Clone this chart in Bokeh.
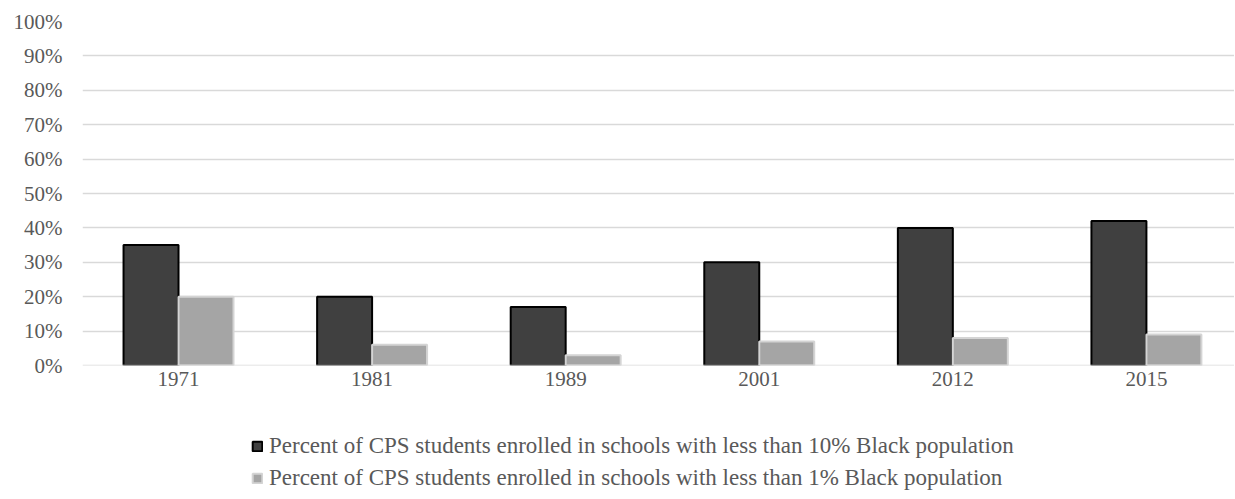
from bokeh.plotting import figure
from bokeh.layouts import column
from bokeh.models import (ColumnDataSource, Range1d, FixedTicker, NumeralTickFormatter,
                          Legend, LegendItem, Span)
from bokeh.transform import dodge
from bokeh.embed import file_html
from bokeh.resources import INLINE

years = ["1971", "1981", "1989", "2001", "2012", "2015"]
less_than_10 = [0.35, 0.20, 0.17, 0.30, 0.40, 0.42]
less_than_1 = [0.20, 0.06, 0.03, 0.07, 0.08, 0.09]
series_names = [
    "Percent of CPS students enrolled in schools with less than 10% Black population",
    "Percent of CPS students enrolled in schools with less than 1% Black population",
]

FONT = "Liberation Serif"
TXT = "#595959"
DARK, DARK_LINE = "#404040", "black"
LIGHT, LIGHT_LINE = "#a5a5a5", "#d4d4d4"

W = 1234
src = ColumnDataSource(dict(x=list(range(len(years))), a=less_than_10, b=less_than_1))

p = figure(width=W, height=400, output_backend="svg", toolbar_location=None,
           x_range=Range1d(-0.496, 5.455), y_range=Range1d(0, 1),
           min_border_left=82, min_border_right=0, min_border_top=21, min_border_bottom=35)
p.outline_line_color = None

bw = 0.284
r1 = p.vbar(x=dodge("x", -bw / 2), top="a", width=bw, source=src,
            fill_color=DARK, line_color=DARK_LINE, line_width=2)
r2 = p.vbar(x=dodge("x", bw / 2), top="b", width=bw, source=src,
            fill_color=LIGHT, line_color=LIGHT_LINE, line_width=2)

p.add_layout(Span(location=0, dimension="width", line_color="#d9d9d9", line_width=1.5,
                  level="overlay"))

p.xaxis.ticker = FixedTicker(ticks=list(range(len(years))))
p.xaxis.major_label_overrides = {i: y for i, y in enumerate(years)}
p.yaxis.ticker = FixedTicker(ticks=[i / 10 for i in range(11)])
p.yaxis.formatter = NumeralTickFormatter(format="0%")
for ax in (p.xaxis[0], p.yaxis[0]):
    ax.axis_line_color = None
    ax.major_tick_line_color = None
    ax.minor_tick_line_color = None
    ax.major_tick_out = 0
    ax.major_tick_in = 0
    ax.major_label_text_font = FONT
    ax.major_label_text_font_size = "21px"
    ax.major_label_text_color = TXT
p.yaxis.major_label_standoff = 20
p.xaxis.major_label_standoff = 6

p.xgrid.grid_line_color = None
p.ygrid.ticker = FixedTicker(ticks=[i / 10 for i in range(11)])
p.ygrid.grid_line_color = "#d9d9d9"
p.ygrid.grid_line_width = 1.5

# legend panel below the chart (legend-only renderers hold no visible data)
lg = figure(width=W, height=98, output_backend="svg", toolbar_location=None,
            x_range=Range1d(0, 1), y_range=Range1d(0, 1),
            x_axis_location=None, y_axis_location=None,
            min_border_left=0, min_border_right=0, min_border_top=0, min_border_bottom=0)
lg.outline_line_color = None
lg.xgrid.grid_line_color = None
lg.ygrid.grid_line_color = None
nodata = ColumnDataSource(dict(x=[float("nan")], top=[float("nan")]))
d1 = lg.vbar(x="x", top="top", width=0.1, source=nodata,
             fill_color=DARK, line_color=DARK_LINE, line_width=2)
d2 = lg.vbar(x="x", top="top", width=0.1, source=nodata,
             fill_color=LIGHT, line_color=LIGHT_LINE, line_width=2)

legend = Legend(items=[LegendItem(label=series_names[0], renderers=[d1], index=0),
                       LegendItem(label=series_names[1], renderers=[d2], index=0)],
                location=(169, 7), orientation="vertical")
legend.border_line_color = None
legend.background_fill_alpha = 0
legend.label_text_font = FONT
legend.label_text_font_size = "23px"
legend.label_text_color = TXT
legend.glyph_width = 12
legend.glyph_height = 12
legend.label_height = 20
legend.spacing = 6
legend.padding = 0
legend.margin = 0
legend.label_standoff = 6
lg.add_layout(legend, "center")

layout = column(p, lg, spacing=0)
open("out.html", "w").write(file_html(layout, INLINE))
